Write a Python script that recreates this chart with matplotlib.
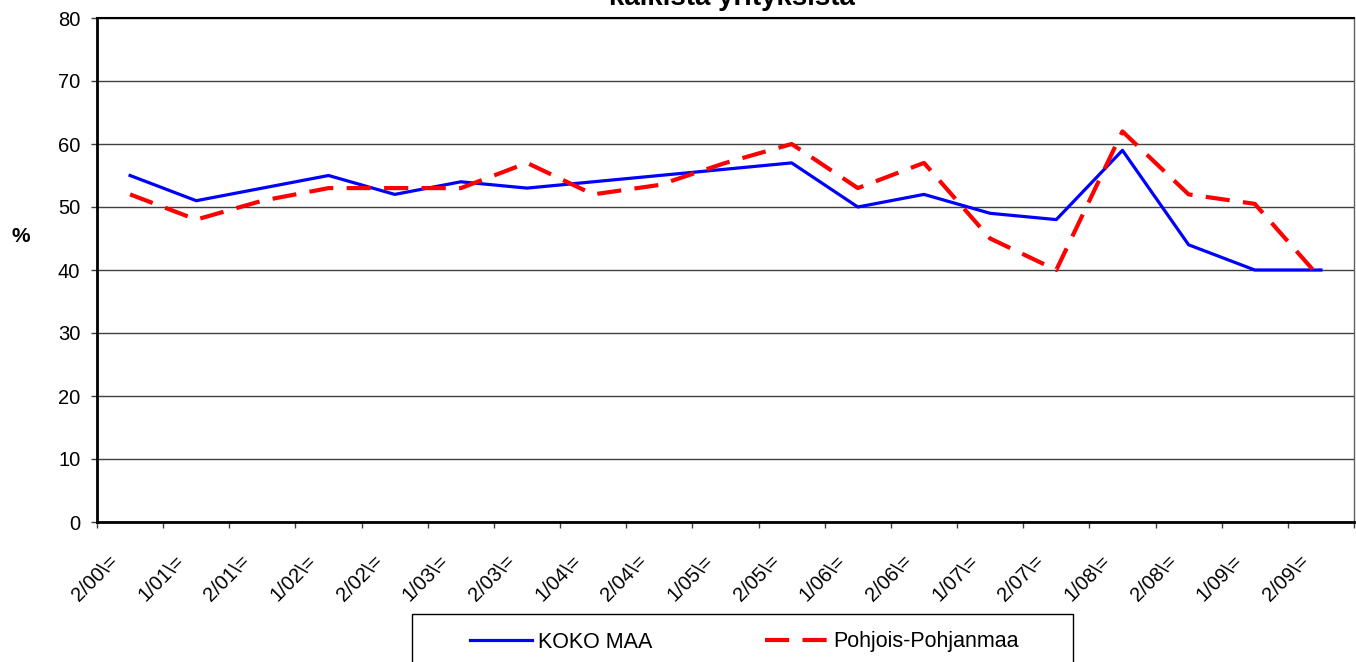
import matplotlib.pyplot as plt
import matplotlib.transforms as mtransforms
from matplotlib.patches import Rectangle
import numpy as np

plt.rcParams['font.family'] = ['Liberation Sans', 'DejaVu Sans']

labels = ['2/00\\=', '1/01\\=', '2/01\\=', '1/02\\=', '2/02\\=', '1/03\\=', '2/03\\=',
          '1/04\\=', '2/04\\=', '1/05\\=', '2/05\\=', '1/06\\=', '2/06\\=', '1/07\\=',
          '2/07\\=', '1/08\\=', '2/08\\=', '1/09\\=', '2/09\\=']
koko_maa = [55, 51, 53, 55, 52, 54, 53, 54, 55, 56, 57, 50, 52, 49, 48, 59, 44, 40, 40]
pohjois_pohjanmaa = [52, 48, 51, 53, 53, 53, 57, 52, 53.5, 57, 60, 53, 57, 45, 40, 62, 52, 50.5, 38.6]
title = 'kaikista yrityksistä'

W, H = 1356, 662
fig = plt.figure(figsize=(W / 100, H / 100), dpi=100)
ax = fig.add_axes([97 / W, 1 - 522 / H, (1354 - 97) / W, (522 - 18) / H])

x = np.arange(len(labels))
ax.plot(x, koko_maa, color='#0000ff', lw=2.3, label='KOKO MAA', zorder=3)
ax.plot(x, pohjois_pohjanmaa, color='#ff0000', lw=3, dashes=(5.8, 3.2),
        label='Pohjois-Pohjanmaa', zorder=4)

ax.set_xlim(-0.5, len(labels) - 0.5)
ax.set_ylim(0, 80)
ax.set_yticks(range(0, 81, 10))
ax.yaxis.grid(True, color='#404040', lw=1)
ax.set_axisbelow(True)

ax.set_xticks(x)
ax.set_xticklabels(labels, rotation=45, ha='right', va='center',
                   rotation_mode='anchor', fontsize=14.5)
ax.set_xticks(np.arange(-0.5, len(labels)), minor=True)
ax.tick_params(axis='x', which='major', length=0, pad=26)
ax.tick_params(axis='x', which='minor', length=4, width=1, color='#404040', direction='out')
ax.tick_params(axis='y', length=4, width=1, color='#404040', labelsize=14.5, pad=8)
shift = mtransforms.ScaledTranslation(-0.15, 0, fig.dpi_scale_trans)
for lab in ax.get_xticklabels():
    lab.set_transform(lab.get_transform() + shift)

for side in ['left', 'bottom']:
    ax.spines[side].set_linewidth(2)
    ax.spines[side].set_color('black')
ax.spines['top'].set_linewidth(1.5)
ax.spines['top'].set_color('black')
ax.spines['right'].set_linewidth(1)
ax.spines['right'].set_color('#606060')

fig.text(21 / W, 1 - 237 / H, '%', ha='center', va='center', fontsize=15, fontweight='bold')
fig.text(732 / W, 1 - 5 / H, title, ha='center', va='baseline', fontsize=20, fontweight='bold')

# legend box sits at the bottom and is cut by the figure edge
fig.patches.append(Rectangle((412 / W, -0.05), (1073 - 412) / W, 0.05 + (662 - 614) / H,
                             transform=fig.transFigure, fill=False, edgecolor='black', lw=1))
handles, names = ax.get_legend_handles_labels()
fig.legend(handles, names, loc='center left', bbox_to_anchor=(470 / W, 1 - 642 / H),
           ncol=2, frameon=False, fontsize=15.5, handlelength=2.9, handletextpad=0.25,
           columnspacing=5.25, borderpad=0, borderaxespad=0)

fig.savefig('out.png', dpi=100)
